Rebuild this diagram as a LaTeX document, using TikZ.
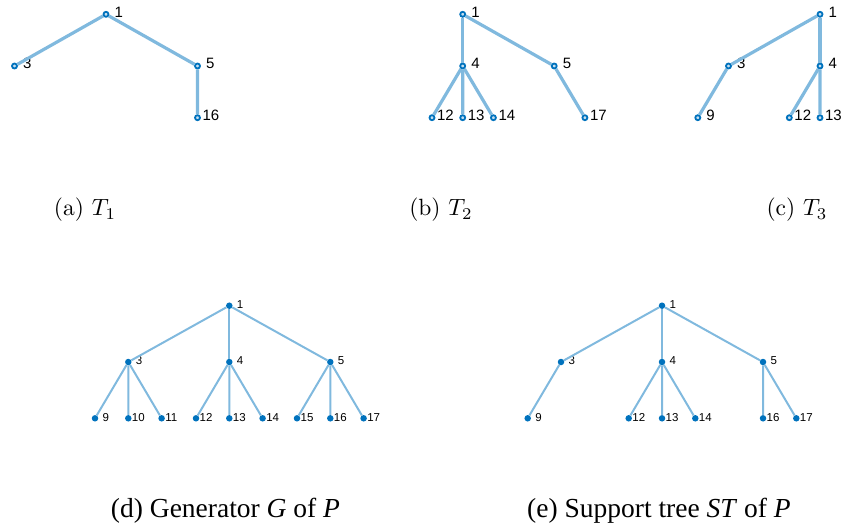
\documentclass[tikz,border=0pt]{standalone}
\usepackage{fontspec}
\setsansfont{Liberation Sans}
\newfontfamily\timesfont{Liberation Serif}
\usetikzlibrary{positioning}

\definecolor{mblue}{RGB}{0,114,189}
\definecolor{eblue}{RGB}{128,185,222}

\tikzset{
  ring/.style = {circle, draw=mblue, fill=eblue!45, line width=1.8pt, minimum size=5pt, inner sep=0pt},
  dot/.style  = {circle, fill=mblue, minimum size=6.5pt, inner sep=0pt},
  bignum/.style = {font=\sffamily\fontsize{15}{15}\selectfont, inner sep=0pt, yshift=2.3pt},
  smallnum/.style = {font=\sffamily\fontsize{11.5}{11.5}\selectfont, inner sep=0pt, yshift=1.2pt},
  % vertices of the upper trees (one / two digits)
  tv/.style  = {ring, label={[bignum, xshift=5pt]east:#1}},
  tvv/.style = {ring, label={[bignum, xshift=1.5pt]east:#1}},
  % vertices of the lower trees
  bv/.style  = {dot, label={[smallnum, xshift=4pt]east:#1}},
  bvv/.style = {dot, label={[smallnum, xshift=0pt]east:#1}},
  lmcap/.style = {font=\normalsize, scale=2.35, transform shape, inner sep=0pt},
  tmcap/.style = {font=\timesfont\fontsize{27.5}{31}\selectfont, inner sep=0pt}
}

\begin{document}
\begin{tikzpicture}[x=1pt, y=1pt]
\useasboundingbox (0,0) rectangle (842,-530);

% upper row: T1, T2, T3
\begin{scope}[
  grow=down,
  level distance=51.7pt,
  level 1/.style={sibling distance=91.5pt},
  level 2/.style={sibling distance=30.7pt},
  edge from parent/.style={draw=eblue, line width=3.2pt}
]
\node[tv=1] (a1) at (106,-14.3) {}
  child {node[tv=3] (a3) {}}
  child[missing]
  child {node[tv=5] (a5) {}
    child[missing]
    child {node[tvv=16] (a16) {}}
    child[missing]
  };

\node[tv=1] (b1) at (462.7,-14.3) {}
  child[missing]
  child {node[tv=4] (b4) {}
    child {node[tvv=12] (b12) {}}
    child {node[tvv=13] (b13) {}}
    child {node[tvv=14] (b14) {}}
  }
  child {node[tv=5] (b5) {}
    child[missing]
    child[missing]
    child {node[tvv=17] (b17) {}}
  };

\node[tv=1] (c1) at (820,-14.3) {}
  child {node[tv=3] (c3) {}
    child {node[tv=9] (c9) {}}
    child[missing]
    child[missing]
  }
  child {node[tv=4] (c4) {}
    child {node[tvv=12] (c12) {}}
    child {node[tvv=13] (c13) {}}
    child[missing]
  }
  child[missing];
\end{scope}

% lower row: generator and support tree
\begin{scope}[
  grow=down,
  level distance=56.3pt,
  level 1/.style={sibling distance=101pt},
  level 2/.style={sibling distance=33.3pt},
  edge from parent/.style={draw=eblue, line width=2pt}
]
\node[bv=1] (g1) at (229.3,-305.7) {}
  child {node[bv=3] (g3) {}
    child {node[bv=9] (g9) {}}
    child {node[bvv=10] (g10) {}}
    child {node[bvv=11] (g11) {}}
  }
  child {node[bv=4] (g4) {}
    child {node[bvv=12] (g12) {}}
    child {node[bvv=13] (g13) {}}
    child {node[bvv=14] (g14) {}}
  }
  child {node[bv=5] (g5) {}
    child {node[bvv=15] (g15) {}}
    child {node[bvv=16] (g16) {}}
    child {node[bvv=17] (g17) {}}
  };

\node[bv=1] (s1) at (662,-305.7) {}
  child {node[bv=3] (s3) {}
    child {node[bv=9] (s9) {}}
    child[missing]
    child[missing]
  }
  child {node[bv=4] (s4) {}
    child {node[bvv=12] (s12) {}}
    child {node[bvv=13] (s13) {}}
    child {node[bvv=14] (s14) {}}
  }
  child {node[bv=5] (s5) {}
    child[missing]
    child {node[bvv=16] (s16) {}}
    child {node[bvv=17] (s17) {}}
  };
\end{scope}

% captions
\node[lmcap] (capa) at (85,-210) {(a) $T_1$};
\node[lmcap] (capb) at (441,-210) {(b) $T_2$};
\node[lmcap] (capc) at (797,-210) {(c) $T_3$};
\node[tmcap] (capd) at (225.5,-511) {(d) Generator \textit{G} of \textit{P}};
\node[tmcap] (cape) at (659,-511) {(e) Support tree \textit{ST} of \textit{P}};

\end{tikzpicture}
\end{document}
